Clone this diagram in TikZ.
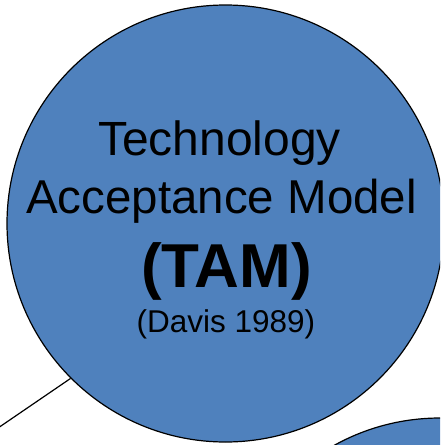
\documentclass[tikz,border=0pt]{standalone}
\usepackage{fontspec}
\setmainfont{Liberation Sans}
\definecolor{tamblue}{RGB}{79,129,189}
\tikzset{
  bubble/.style={circle, draw=black, line width=1.2pt, fill=tamblue, inner sep=0pt, minimum size=#1},
  label text/.style={anchor=base, inner sep=0pt, text=black},
  link/.style={draw=black, line width=1.2pt}
}
\begin{document}
\begin{tikzpicture}[x=1pt,y=-1pt]
\useasboundingbox (0,0) rectangle (440,445);
\clip (0,0) rectangle (440,445);
\coordinate (lineend) at (-2,428);
\node[bubble=437pt] (tam) at (225.5,223.5) {};
\node[bubble=436pt] (other) at (440,636) {};
\draw[link] (lineend) -- (tam.225);
\node[label text, font=\fontsize{48}{48}\selectfont] (t1) at (219.5,155) {Technology};
\node[label text, font=\fontsize{47.5}{47.5}\selectfont] (t2) at (221.5,213) {Acceptance Model};
\node[label text, font=\fontsize{62}{62}\selectfont\bfseries] (t3) at (226.5,287) {(TAM)};
\node[label text, font=\fontsize{31.5}{31.5}\selectfont] (t4) at (226,332) {(Davis 1989)};
\end{tikzpicture}
\end{document}
